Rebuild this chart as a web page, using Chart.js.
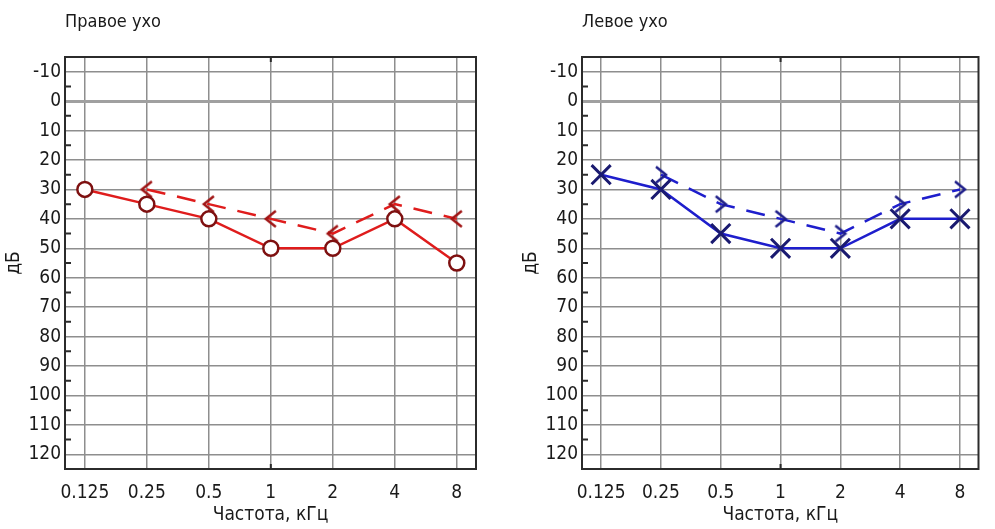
<!DOCTYPE html>
<html>
<head>
<meta charset="utf-8">
<script src="https://cdn.jsdelivr.net/npm/chart.js@4/dist/chart.umd.min.js"></script>
<style>
  html, body { margin: 0; padding: 0; background: #ffffff; }
  body { width: 995px; height: 529px; position: relative; overflow: hidden; }
  .panel { position: absolute; top: 0; height: 529px; }
  #rightEarPanel { left: 0; width: 490px; }
  #leftEarPanel { left: 517px; width: 478px; }
</style>
</head>
<body>
<div class="panel" id="rightEarPanel"><canvas id="rightEarChart" width="490" height="529"></canvas></div>
<div class="panel" id="leftEarPanel"><canvas id="leftEarChart" width="478" height="529"></canvas></div>
<script>
const frequencies = ["0.125", "0.25", "0.5", "1", "2", "4", "8"];
const dbTicks = [-10, 0, 10, 20, 30, 40, 50, 60, 70, 80, 90, 100, 110, 120];
const minorDbTicks = [-5, 5, 15, 25, 35, 45, 55, 65, 75, 85, 95, 105, 115];

// right ear (красный), left ear (синий); null = no measurement
const rightAir = [30, 35, 40, 50, 50, 40, 55];
const rightBone = [null, 30, 35, 40, 45, 35, 40];
const leftAir = [25, 30, 45, 50, 50, 40, 40];
const leftBone = [null, 25, 35, 40, 45, 35, 30];

const fontFamily = "'DejaVu Sans Condensed', 'DejaVu Sans', sans-serif";
const textColor = "#1a1a1a";
const gridColor = "#8e8e8e";

function toPoints(values) {
  return values
    .map((value, index) => ({ x: index, y: value }))
    .filter((point) => point.y !== null);
}

function chevron(direction, color) {
  const c = document.createElement("canvas");
  c.width = 22;
  c.height = 22;
  const g = c.getContext("2d");
  const s = direction === "left" ? 1 : -1;
  g.strokeStyle = color;
  g.lineWidth = 2.5;
  g.beginPath();
  g.moveTo(11 + 5 * s, 11 - 8);
  g.lineTo(11 - 5 * s, 11);
  g.lineTo(11 + 5 * s, 11 + 8);
  g.stroke();
  return c;
}

const frameTicks = {
  id: "frameTicks",
  beforeDatasetsDraw(chart) {
    const { ctx, chartArea: area, scales } = chart;
    ctx.save();
    ctx.strokeStyle = "#2b2b2b";
    ctx.lineWidth = 2;
    ctx.strokeRect(area.left, area.top, area.right - area.left, area.bottom - area.top);
    ctx.beginPath();
    minorDbTicks.forEach((value) => {
      const py = scales.y.getPixelForValue(value);
      ctx.moveTo(area.left, py);
      ctx.lineTo(area.left + 6, py);
    });
    const mid = scales.x.getPixelForValue(frequencies.indexOf("1"));
    ctx.moveTo(mid, area.top);
    ctx.lineTo(mid, area.top + 5);
    ctx.moveTo(mid, area.bottom);
    ctx.lineTo(mid, area.bottom - 5);
    ctx.stroke();
    ctx.restore();
  }
};

function buildChart(canvasId, title, airValues, boneValues, look, rightPadding) {
  new Chart(document.getElementById(canvasId), {
    type: "line",
    data: {
      datasets: [
        {
          data: toPoints(airValues),
          borderColor: look.line,
          borderWidth: 2.5,
          pointStyle: look.airPoint,
          pointRadius: look.airRadius,
          pointBorderColor: look.marker,
          pointBorderWidth: look.airBorder,
          pointBackgroundColor: "#ffffff",
          tension: 0
        },
        {
          data: toPoints(boneValues),
          borderColor: look.line,
          borderWidth: 2.5,
          borderDash: [19, 12],
          pointStyle: look.bonePoint,
          pointRadius: 8,
          tension: 0
        }
      ]
    },
    options: {
      responsive: false,
      animation: false,
      layout: { padding: { left: 0, right: rightPadding, top: 0, bottom: 0 } },
      scales: {
        x: {
          type: "linear",
          min: -0.32,
          max: 6.31,
          afterBuildTicks: (scale) => {
            scale.ticks = frequencies.map((f, i) => ({ value: i }));
          },
          afterFit: (scale) => { scale.height = 60; },
          grid: { color: gridColor, lineWidth: 1.5, drawTicks: false },
          border: { display: false },
          ticks: {
            padding: 13,
            maxRotation: 0,
            autoSkip: false,
            color: textColor,
            font: { family: fontFamily, size: 19 },
            callback: (value) => frequencies[value]
          },
          title: {
            display: true,
            text: "Частота, кГц",
            color: textColor,
            font: { family: fontFamily, size: 19 },
            padding: { top: 0, bottom: 3 }
          }
        },
        y: {
          type: "linear",
          reverse: true,
          min: -15,
          max: 125,
          afterBuildTicks: (scale) => {
            scale.ticks = dbTicks.map((v) => ({ value: v }));
          },
          afterFit: (scale) => { scale.width = 65; },
          grid: {
            drawTicks: false,
            color: (c) => (c.tick && c.tick.value === 0 ? "#a0a0a0" : gridColor),
            lineWidth: (c) => (c.tick && c.tick.value === 0 ? 3 : 1.5)
          },
          border: { display: false },
          ticks: {
            padding: 4,
            color: textColor,
            font: { family: fontFamily, size: 19 }
          },
          title: {
            display: true,
            text: "дБ",
            color: textColor,
            font: { family: fontFamily, size: 19 },
            padding: { top: 3, bottom: 0 }
          }
        }
      },
      plugins: {
        legend: { display: false },
        tooltip: { enabled: false },
        title: {
          display: true,
          text: title,
          align: "start",
          fullSize: false,
          color: textColor,
          font: { family: fontFamily, size: 18, weight: "normal" },
          padding: { top: 12, bottom: 23.4 }
        }
      }
    },
    plugins: [frameTicks]
  });
}

buildChart("rightEarChart", "Правое ухо", rightAir, rightBone, {
  line: "#df1c1c",
  marker: "#7e1010",
  airPoint: "circle",
  airRadius: 7.5,
  airBorder: 2.5,
  bonePoint: chevron("left", "#a01414")
}, 14);

buildChart("leftEarChart", "Левое ухо", leftAir, leftBone, {
  line: "#1e1ecc",
  marker: "#1a1a70",
  airPoint: "crossRot",
  airRadius: 13.5,
  airBorder: 3,
  bonePoint: chevron("right", "#1f1f8a")
}, 4);
</script>
</body>
</html>
